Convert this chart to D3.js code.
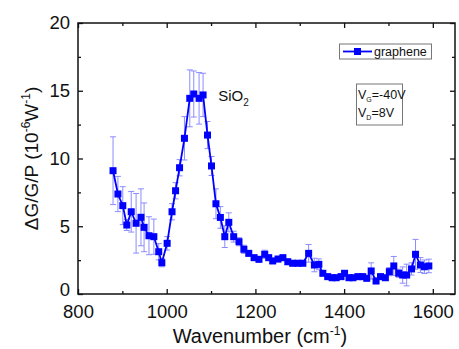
<!DOCTYPE html>
<html>
<head>
<meta charset="utf-8">
<script src="https://cdn.jsdelivr.net/npm/d3@7"></script>
<style>
  html, body { margin: 0; padding: 0; background: #fff; }
  text { font-family: "Liberation Sans", Arial, sans-serif; fill: #111; }
</style>
</head>
<body>
<div id="chart"></div>
<script>
// wavenumber (cm^-1), signal (10^-6 W^-1), error bar half-height
const wavenumber = [879, 890, 901, 910, 920, 931, 942, 949, 960, 971, 982, 989, 1001, 1012, 1020, 1029, 1040, 1052, 1061, 1073, 1082, 1092, 1101, 1111, 1121, 1131, 1140, 1151, 1163, 1174, 1185, 1197, 1208, 1221, 1230, 1239, 1251, 1262, 1273, 1284, 1296, 1307, 1320, 1333, 1343, 1352, 1363, 1373, 1382, 1393, 1401, 1411, 1420, 1431, 1442, 1451, 1461, 1472, 1482, 1493, 1502, 1512, 1523, 1532, 1541, 1552, 1561, 1572, 1581, 1591]
const signal = [9.1, 7.38, 6.52, 5.09, 6.07, 5.22, 5.66, 4.92, 4.3, 4.23, 3.12, 2.31, 3.74, 6.07, 7.62, 9.32, 11.49, 14.44, 14.76, 14.44, 14.69, 11.73, 9.45, 6.66, 5.65, 4.23, 5.29, 4.23, 3.86, 3.3, 3.0, 2.68, 2.56, 2.93, 2.68, 2.44, 2.58, 2.68, 2.38, 2.27, 2.27, 2.27, 3.0, 2.14, 2.19, 1.53, 1.28, 1.2, 1.2, 1.28, 1.53, 1.2, 1.2, 1.28, 1.28, 1.16, 1.7, 0.96, 1.28, 1.2, 1.65, 2.07, 1.53, 1.4, 1.4, 1.85, 2.93, 2.14, 2.01, 2.07]
const errors = [2.5, 1.3, 1.4, 0.4, 1.5, 2.2, 2.1, 1.8, 1.4, 1.3, 0.6, 0.3, 0.5, 0.6, 0.6, 0.6, 1.6, 2.1, 1.7, 1.9, 1.6, 1.0, 0.7, 1.1, 0.8, 0.8, 0.7, 0.4, 0.3, 0.3, 0.2, 0.2, 0.2, 0.3, 0.2, 0.2, 0.2, 0.2, 0.2, 0.2, 0.2, 0.2, 0.65, 0.5, 0.4, 0.2, 0.2, 0.2, 0.2, 0.2, 0.2, 0.2, 0.2, 0.2, 0.2, 0.2, 0.6, 0.2, 0.2, 0.2, 0.3, 0.7, 0.3, 0.6, 0.8, 0.45, 1.1, 0.55, 0.5, 0.5]

const xTicks = [800, 1000, 1200, 1400, 1600]
const xMinor = [900, 1100, 1300, 1500]
const yTicks = [0, 5, 10, 15, 20]
const yMinor = [2.5, 7.5, 12.5, 17.5]

const data = wavenumber.map((w, i) => ({ w, v: signal[i], e: errors[i] }))

const W = 459, H = 349
const margin = { top: 23, right: 4, bottom: 55, left: 78 }
const width = W - margin.left - margin.right
const height = H - margin.top - margin.bottom

const svg = d3.select('#chart').append('svg')
  .attr('width', W).attr('height', H)
const g = svg.append('g').attr('transform', `translate(${margin.left},${margin.top})`)

const x = d3.scaleLinear().domain([800, 1650]).range([0, width])
const y = d3.scaleLinear().domain([0, 20]).range([height, 0])

// axes, ticks pointing inward
const styleAxis = sel => {
  sel.select('.domain').remove()
  sel.selectAll('line').attr('stroke', '#111').attr('stroke-width', 1.3)
  sel.selectAll('text').style('font-size', '18.5px').attr('fill', '#111')
}
g.append('g').attr('transform', `translate(0,${height})`)
  .call(d3.axisBottom(x).tickValues(xTicks).tickSize(-5).tickPadding(11).tickFormat(d3.format('d'))).call(styleAxis)
g.append('g').attr('transform', `translate(0,${height})`)
  .call(d3.axisBottom(x).tickValues(xMinor).tickSize(-3).tickFormat('')).call(styleAxis)
g.append('g').call(d3.axisTop(x).tickValues(xTicks).tickSize(-5).tickFormat('')).call(styleAxis)
g.append('g').call(d3.axisTop(x).tickValues(xMinor).tickSize(-3).tickFormat('')).call(styleAxis)
const yAx = g.append('g').call(d3.axisLeft(y).tickValues(yTicks).tickSize(-5).tickPadding(8).tickFormat(d3.format('d'))).call(styleAxis)
// lift the "0" a little so it clears "800"
yAx.selectAll('.tick text').filter(d => d === 0).attr('dy', '0.1em')
g.append('g').call(d3.axisLeft(y).tickValues(yMinor).tickSize(-3).tickFormat('')).call(styleAxis)
g.append('g').attr('transform', `translate(${width},0)`)
  .call(d3.axisRight(y).tickValues(yTicks).tickSize(-5).tickFormat('')).call(styleAxis)
g.append('g').attr('transform', `translate(${width},0)`)
  .call(d3.axisRight(y).tickValues(yMinor).tickSize(-3).tickFormat('')).call(styleAxis)

g.append('rect').attr('width', width).attr('height', height)
  .attr('fill', 'none').attr('stroke', '#111').attr('stroke-width', 1.5)

// error bars
const errCol = '#8c8cff'
const eb = g.append('g').attr('stroke', errCol).attr('stroke-width', 1)
data.forEach(d => {
  const cx = x(d.w), y0 = y(d.v - d.e), y1 = y(d.v + d.e)
  eb.append('line').attr('x1', cx).attr('x2', cx).attr('y1', y0).attr('y2', y1)
  eb.append('line').attr('x1', cx - 3).attr('x2', cx + 3).attr('y1', y0).attr('y2', y0)
  eb.append('line').attr('x1', cx - 3).attr('x2', cx + 3).attr('y1', y1).attr('y2', y1)
})

// line + square markers
const line = d3.line().x(d => x(d.w)).y(d => y(d.v))
g.append('path').datum(data)
  .attr('fill', 'none').attr('stroke', '#0000ff').attr('stroke-width', 1.8).attr('d', line)
const ms = 7
g.selectAll('rect.pt').data(data).join('rect').attr('class', 'pt')
  .attr('x', d => x(d.w) - ms / 2).attr('y', d => y(d.v) - ms / 2)
  .attr('width', ms).attr('height', ms).attr('fill', '#0000ff')

// SiO2 label
const sio = g.append('text').attr('x', x(1116)).attr('y', y(14.27)).style('font-size', '15px')
sio.append('tspan').text('SiO')
sio.append('tspan').attr('dy', 5).style('font-size', '10px').text('2')

// legend
const lg = svg.append('g')
lg.append('rect').attr('x', 339.5).attr('y', 44).attr('width', 92).attr('height', 15)
  .attr('fill', '#fff').attr('stroke', '#777').attr('stroke-width', 1)
lg.append('line').attr('x1', 343).attr('x2', 372).attr('y1', 51.5).attr('y2', 51.5)
  .attr('stroke', '#0000ff').attr('stroke-width', 1.8)
lg.append('rect').attr('x', 354).attr('y', 48).attr('width', ms).attr('height', ms).attr('fill', '#0000ff')
lg.append('text').attr('x', 374).attr('y', 55.5).style('font-size', '12.5px').text('graphene')

// bias annotation
const an = svg.append('g')
an.append('rect').attr('x', 356.5).attr('y', 84).attr('width', 46).attr('height', 41)
  .attr('fill', '#fff').attr('stroke', '#777').attr('stroke-width', 1)
const t1 = an.append('text').attr('x', 358).attr('y', 99).style('font-size', '12.5px')
t1.append('tspan').text('V')
t1.append('tspan').attr('dy', 3).style('font-size', '7px').text('G')
t1.append('tspan').attr('dy', -3).text('=-40V')
const t2 = an.append('text').attr('x', 358).attr('y', 117).style('font-size', '12.5px')
t2.append('tspan').text('V')
t2.append('tspan').attr('dy', 3).style('font-size', '7px').text('D')
t2.append('tspan').attr('dy', -3).text('=8V')

// axis titles
const xt = svg.append('text').attr('x', margin.left + x(1210)).attr('y', 343)
  .attr('text-anchor', 'middle').style('font-size', '20px')
xt.append('tspan').text('Wavenumber (cm')
xt.append('tspan').attr('dy', -8).style('font-size', '12px').text('-1')
xt.append('tspan').attr('dy', 8).text(')')

const yt = svg.append('text')
  .attr('transform', `translate(38,${margin.top + height / 2}) rotate(-90)`)
  .attr('text-anchor', 'middle').style('font-size', '19px')
yt.append('tspan').text('ΔG/G/P (10')
yt.append('tspan').attr('dy', -8).style('font-size', '12px').text('-6')
yt.append('tspan').attr('dy', 8).text('W')
yt.append('tspan').attr('dy', -8).style('font-size', '12px').text('-1')
yt.append('tspan').attr('dy', 8).text(')')
</script>
</body>
</html>
